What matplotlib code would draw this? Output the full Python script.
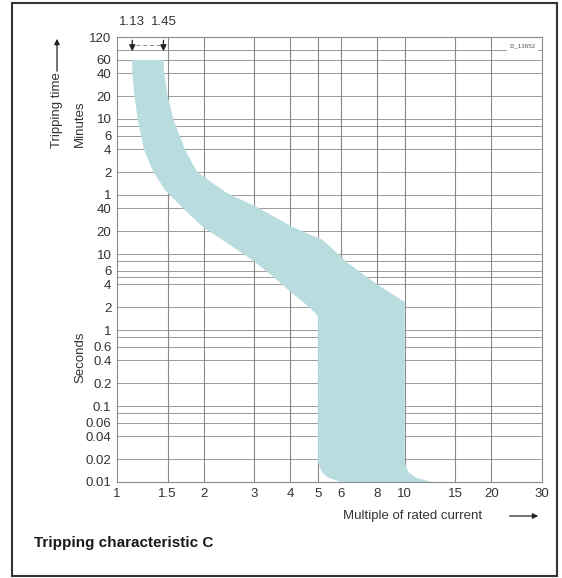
import matplotlib
matplotlib.use("Agg")
import matplotlib.pyplot as plt
from matplotlib.patches import Rectangle, FancyArrowPatch

plt.rcParams.update({
    "font.family": ["Liberation Sans", "DejaVu Sans"],
    "text.color": "#333333",
    "xtick.color": "#333333",
    "ytick.color": "#333333",
})

# x: multiple of rated current, y: tripping time in seconds
X_TICKS = [1, 1.5, 2, 3, 4, 5, 6, 8, 10, 15, 20, 30]
X_LABELS = ["1", "1.5", "2", "3", "4", "5", "6", "8", "10", "15", "20", "30"]
SEC_TICKS = [0.01, 0.02, 0.04, 0.06, 0.1, 0.2, 0.4, 0.6, 1, 2, 4, 6, 10, 20, 40]
MIN_TICKS = [1, 2, 4, 6, 10, 20, 40, 60, 120]
EXTRA_GRID_SEC = [0.08, 0.8, 5, 8, 480, 4800]

# band boundaries
LOW_X = [1.13, 1.13, 1.15, 1.18, 1.24, 1.33, 1.47, 1.72, 1.99, 2.53, 3.0,
         3.5, 4.0, 4.4, 4.75, 4.95, 5.0, 5.0, 5.15, 5.4, 6.0]
LOW_T = [3600, 2400, 1200, 600, 240, 126, 69, 38, 22.7, 12.4, 8.0,
         5.0, 3.2, 2.4, 1.85, 1.6, 1.45, 0.018, 0.0135, 0.0115, 0.01]
UP_X = [1.45, 1.46, 1.5, 1.57, 1.72, 1.9, 2.41, 3.07, 4.08, 5.19, 6.3,
        8.0, 10.0, 10.0, 10.3, 10.9, 12.4]
UP_T = [3600, 2400, 1200, 600, 240, 120, 63.5, 41.5, 22.7, 15.3, 7.8,
        4.0, 2.34, 0.018, 0.0135, 0.0115, 0.01]

BAND = "#b9dcdf"
GRID = "#8a8a8a"

fig = plt.figure(figsize=(5.62, 5.78), dpi=100)
ax = fig.add_axes([117 / 562, 1 - 482 / 578, (542 - 117) / 562, (482 - 37) / 578])
ax.set_xscale("log")
ax.set_yscale("log")
ax.set_xlim(1, 30)
ax.set_ylim(0.01, 7200)

# grid (under the band)
for x in X_TICKS[1:-1]:
    ax.axvline(x, color=GRID, lw=0.8, zorder=1)
ys = SEC_TICKS + [m * 60 for m in MIN_TICKS] + EXTRA_GRID_SEC
for y in ys:
    ax.axhline(y, color=GRID, lw=0.6, zorder=1)
for s in ax.spines.values():
    s.set_color(GRID)
    s.set_linewidth(0.8)

# band
px = LOW_X + UP_X[::-1]
py = LOW_T + UP_T[::-1]
ax.fill(px, py, color=BAND, lw=0, zorder=3)

ax.set_xticks(X_TICKS)
ax.set_xticklabels(X_LABELS)
ax.xaxis.set_minor_locator(matplotlib.ticker.NullLocator())
ax.set_yticks(SEC_TICKS + [m * 60 for m in MIN_TICKS])
ax.set_yticklabels([f"{v:g}" for v in SEC_TICKS] + [str(m) for m in MIN_TICKS])
ax.yaxis.set_minor_locator(matplotlib.ticker.NullLocator())
ax.tick_params(length=0, labelsize=9.5, pad=4)

# arrows for 1.13 / 1.45
for xv, lab in [(1.13, "1.13"), (1.45, "1.45")]:
    ax.annotate("", xy=(xv, 4300), xytext=(xv, 7100),
                arrowprops=dict(arrowstyle="-|>", color="#222222", lw=0.9,
                                mutation_scale=9))
    ax.text(xv, 1.02, lab, transform=ax.get_xaxis_transform(),
            ha="center", va="bottom", fontsize=9.5)
ax.plot([1.16, 1.41], [5700, 5700], color=GRID, lw=0.7, ls=(0, (4, 3)))
ax.text(0.985, 0.985, "I2_13652", transform=ax.transAxes, ha="right",
        va="top", fontsize=4.5, color="#555555",
        bbox=dict(facecolor="white", edgecolor="none", pad=1.5))

# axis captions
fig.text(57 / 562, 1 - 110 / 578, "Tripping time", rotation=90,
         ha="center", va="center", fontsize=9.5)
fig.add_artist(FancyArrowPatch(
    (57 / 562, 1 - 74 / 578), (57 / 562, 1 - 36 / 578),
    transform=fig.transFigure, arrowstyle="-|>", mutation_scale=8,
    color="#222222", lw=0.9))
fig.text(80 / 562, 1 - 124 / 578, "Minutes", rotation=90,
         ha="center", va="center", fontsize=9.5)
fig.text(80 / 562, 1 - 357 / 578, "Seconds", rotation=90,
         ha="center", va="center", fontsize=9.5)
fig.text(343 / 562, 1 - 516 / 578, "Multiple of rated current",
         ha="left", va="center", fontsize=9.5)
fig.add_artist(FancyArrowPatch(
    (507 / 562, 1 - 516 / 578), (541 / 562, 1 - 516 / 578),
    transform=fig.transFigure, arrowstyle="-|>", mutation_scale=8,
    color="#222222", lw=0.9))
fig.text(34 / 562, 1 - 543 / 578, "Tripping characteristic C",
         ha="left", va="center", fontsize=11, fontweight="bold",
         color="#1a1a1a")

# outer frame
fig.add_artist(Rectangle((12 / 562, 1 - 576 / 578), 545 / 562, 573 / 578,
                         transform=fig.transFigure, fill=False,
                         edgecolor="#333333", lw=1.5))

fig.savefig("out.png", dpi=100)
